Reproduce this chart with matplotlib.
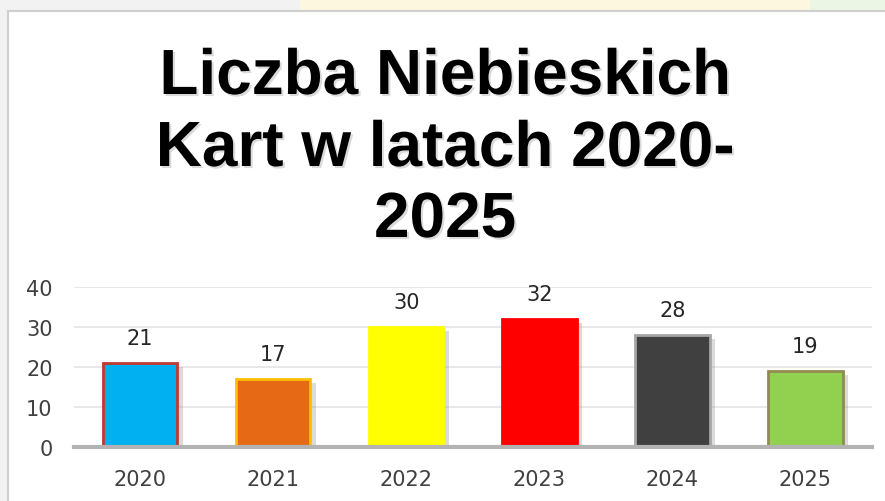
import matplotlib.pyplot as plt
import matplotlib.patheffects as pe
from matplotlib.patches import Rectangle

years = ['2020', '2021', '2022', '2023', '2024', '2025']
counts = [21, 17, 30, 32, 28, 19]
fill_colors = ['#00b0f0', '#e66a16', '#ffff00', '#ff0000', '#404040', '#92d050']
edge_colors = ['#c0392b', '#ffc000', '#ffff00', '#ff0000', '#a6a6a6', '#948a54']
title_lines = ['Liczba Niebieskich', 'Kart w latach 2020-', '2025']

W, H = 885, 502
fig = plt.figure(figsize=(W / 100, H / 100), dpi=100, facecolor='#f2f2f2')

# slide background fragments around the chart frame
fig.patches.append(Rectangle((300 / W, 1 - 12 / H), 510 / W, 12 / H, transform=fig.transFigure,
                             facecolor='#fdf7e0', edgecolor='none', zorder=0))
fig.patches.append(Rectangle((810 / W, 1 - 12 / H), 75 / W, 12 / H, transform=fig.transFigure,
                             facecolor='#ebf6e4', edgecolor='none', zorder=0))
fig.patches.append(Rectangle((8 / W, -0.05), 1.0, 1 - 12 / H + 0.05, transform=fig.transFigure,
                             facecolor='white', edgecolor='#cfcfcf', linewidth=1.5, zorder=1))

# title, one line per baseline
baselines = [95, 167, 238]
for line, yb in zip(title_lines, baselines):
    fig.text(445 / W, 1 - yb / H, line, ha='center', va='baseline',
             fontsize=46, fontweight='bold', family='Liberation Sans', color='black', zorder=5,
             path_effects=[pe.SimplePatchShadow(offset=(1.5, -1.5), shadow_rgbFace='#999999', alpha=0.35),
                           pe.Normal()])

ax = fig.add_axes([73.5 / W, 54 / H, (872 - 73.5) / W, 160 / H])
ax.set_facecolor('none')
ax.set_zorder(3)

x = list(range(len(years)))
bars = ax.bar(x, counts, width=0.56, color=fill_colors, edgecolor=edge_colors, linewidth=2, zorder=3)
for b in bars:
    b.set_path_effects([pe.SimplePatchShadow(offset=(4, -3), shadow_rgbFace='#999999', alpha=0.35),
                        pe.Normal()])

for xi, v in zip(x, counts):
    ax.annotate(str(v), (xi, v), xytext=(0, 11), textcoords='offset points',
                ha='center', va='bottom', fontsize=15, color='#262626', family='DejaVu Sans')

ax.set_xlim(-0.5, len(years) - 0.5)
ax.set_ylim(0, 40)
ax.set_yticks([0, 10, 20, 30, 40])
ax.set_xticks(x)
ax.set_xticklabels(years)
ax.grid(axis='y', color='#e8e8e8', linewidth=1.5, zorder=0)
ax.set_axisbelow(True)
for s in ['top', 'right', 'left']:
    ax.spines[s].set_visible(False)
ax.spines['bottom'].set_color('#b3b3b3')
ax.spines['bottom'].set_linewidth(3)
ax.spines['bottom'].set_zorder(4)
ax.tick_params(axis='both', length=0, labelsize=15, colors='#404040')
ax.tick_params(axis='y', pad=15)
ax.tick_params(axis='x', pad=16)

fig.savefig('out.png', dpi=100, facecolor=fig.get_facecolor())
